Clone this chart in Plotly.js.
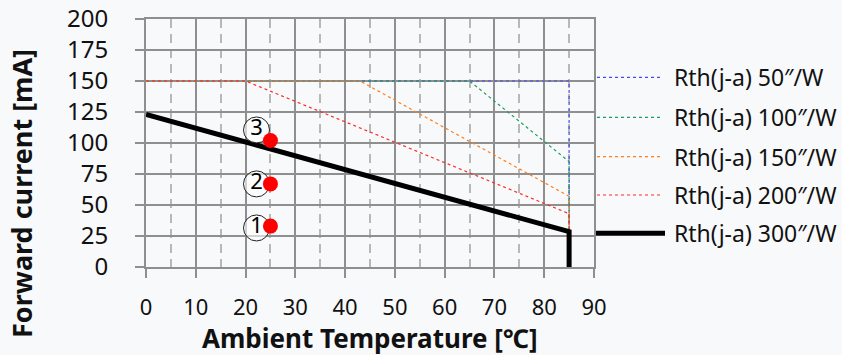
<!DOCTYPE html>
<html>
<head>
<meta charset="utf-8">
<script src="https://cdn.plot.ly/plotly-3.0.1.min.js"></script>
<style>html,body{margin:0;padding:0;background:#f8f9fb;}#chart{width:842px;height:355px;}</style>
</head>
<body>
<div id="chart"></div>
<script>
// ---- data ----
const seriesNames = ["Rth(j-a) 50″/W", "Rth(j-a) 100″/W", "Rth(j-a) 150″/W", "Rth(j-a) 200″/W", "Rth(j-a) 300″/W"];
const seriesColors = ["#4a4af0", "#1aa05a", "#ff7f1a", "#ff2a2a", "#000000"];
const rth50Temp = [0, 85, 85];
const rth50Current = [150, 150, 0];
const rth100Temp = [0, 65, 85, 85];
const rth100Current = [150, 150, 85, 0];
const rth150Temp = [0, 43, 85, 85];
const rth150Current = [150, 150, 57, 0];
const rth200Temp = [0, 20, 85, 85];
const rth200Current = [150, 150, 43, 0];
const rth300Temp = [0, 85, 85];
const rth300Current = [123, 28.5, 0];
const pointTemp = [25, 25, 25];
const pointCurrent = [33, 67, 102];
const pointLabels = ["1", "2", "3"];
const labelTemp = [22.2, 22.2, 22.2];
const labelCurrent = [31.5, 67, 110.5];
const xTicks = [0, 10, 20, 30, 40, 50, 60, 70, 80, 90];
const yTicks = [0, 25, 50, 75, 100, 125, 150, 175, 200];
const xTitle = "Ambient Temperature [℃]";
const yTitle = "Forward current [mA]";

const FONT = "Noto Sans, Open Sans, DejaVu Sans, sans-serif";
const W = 842, H = 355, L = 146, R = 594, T = 19, B = 267;
const px = v => (v - L) / (R - L);
const py = v => (B - v) / (B - T);

const seriesX = [rth50Temp, rth100Temp, rth150Temp, rth200Temp, rth300Temp];
const seriesY = [rth50Current, rth100Current, rth150Current, rth200Current, rth300Current];

const traces = [];
for (let i = 0; i < 5; i++) {
  const thick = i === 4;
  traces.push({
    type: "scatter", mode: "lines", name: seriesNames[i],
    x: seriesX[i], y: seriesY[i],
    line: {color: seriesColors[i], width: thick ? 5 : 1.2, dash: thick ? "solid" : "dot"},
    hoverinfo: "skip", showlegend: false
  });
}
traces.push({
  type: "scatter", mode: "markers+text", x: labelTemp, y: labelCurrent, text: pointLabels,
  textposition: "middle center", textfont: {family: FONT, size: 22, color: "#000"},
  marker: {symbol: "circle", size: 26, color: "rgba(255,255,255,0.6)", line: {color: "#222", width: 1}},
  showlegend: false, hoverinfo: "skip", cliponaxis: false
});
traces.push({
  type: "scatter", mode: "markers", x: pointTemp, y: pointCurrent,
  marker: {symbol: "circle", size: 15, color: "#ff0000"},
  showlegend: false, hoverinfo: "skip"
});

// custom legend
const legendY = [77.3, 117.3, 156.7, 195, 233.3];
const shapes = [], annotations = [];
for (let i = 0; i < 5; i++) {
  const thick = i === 4;
  shapes.push({type: "line", xref: "paper", yref: "paper",
    x0: px(thick ? 596 : 597), x1: px(thick ? 665 : 662), y0: py(legendY[i]), y1: py(legendY[i]),
    line: {color: seriesColors[i], width: thick ? 5 : 1.2, dash: thick ? "solid" : "dot"}});
  annotations.push({xref: "paper", yref: "paper", x: px(672), y: py(legendY[i]),
    xanchor: "left", yanchor: "middle", showarrow: false, text: seriesNames[i],
    font: {family: FONT, size: 23, color: "#111"}});
}
annotations.push({xref: "paper", yref: "paper", x: px(22), y: py(194), textangle: -90,
  xanchor: "center", yanchor: "middle", showarrow: false, text: "<b>" + yTitle + "</b>",
  font: {family: FONT, size: 27, color: "#111"}});
annotations.push({xref: "paper", yref: "paper", x: px(370), y: py(338),
  xanchor: "center", yanchor: "middle", showarrow: false, text: "<b>" + xTitle + "</b>",
  font: {family: FONT, size: 26, color: "#111"}});

const layout = {
  width: W, height: H,
  margin: {l: L, r: W - R, t: T, b: H - B},
  paper_bgcolor: "#f8f9fb", plot_bgcolor: "#f8f9fb",
  showlegend: false,
  font: {family: FONT, color: "#111"},
  xaxis: {
    range: [0, 90], tickvals: xTicks, ticktext: xTicks.map(String),
    showgrid: true, gridcolor: "#8f8f8f", gridwidth: 2, zeroline: false,
    showline: true, mirror: true, linecolor: "#8f8f8f", linewidth: 2,
    ticks: "outside", ticklen: 9, tickwidth: 2, tickcolor: "#8f8f8f",
    tickfont: {family: FONT, size: 22, color: "#111"}, ticklabelstandoff: 11,
    minor: {dtick: 5, tick0: 5, showgrid: true, gridcolor: "#b8b8b8", gridwidth: 2, griddash: "9px,6px", ticks: ""},
    fixedrange: true
  },
  yaxis: {
    range: [0, 200], tickvals: yTicks, ticktext: yTicks.map(String),
    showgrid: true, gridcolor: "#8f8f8f", gridwidth: 2, zeroline: false,
    showline: true, mirror: true, linecolor: "#8f8f8f", linewidth: 2,
    ticks: "outside", ticklen: 9, tickwidth: 2, tickcolor: "#8f8f8f",
    tickfont: {family: FONT, size: 24, color: "#111"}, ticklabelstandoff: 22,
    fixedrange: true
  },
  shapes: shapes, annotations: annotations
};
Plotly.newPlot("chart", traces, layout, {displayModeBar: false, staticPlot: true});
</script>
</body>
</html>
